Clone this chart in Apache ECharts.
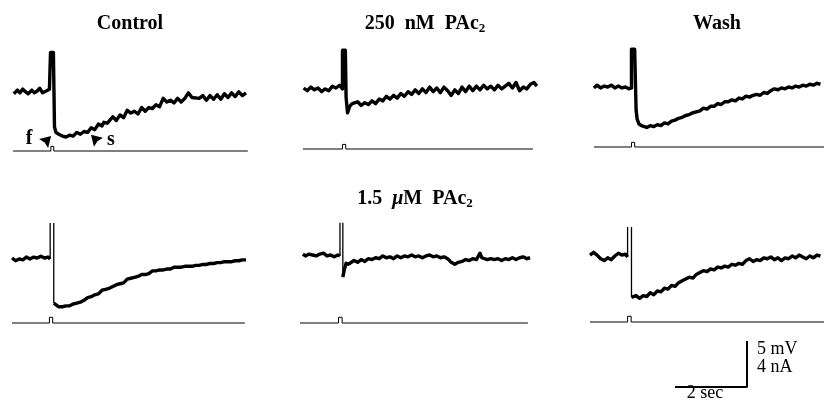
<!DOCTYPE html>
<html>
<head>
<meta charset="utf-8">
<script src="https://cdn.jsdelivr.net/npm/echarts@6/dist/echarts.min.js"></script>
<style>
html, body { margin: 0; padding: 0; background: #fff; }
#main { width: 824px; height: 401px; }
</style>
</head>
<body>
<div id="main"></div>
<script>
// membrane potential traces, [time (s), mV relative to resting level]
var ctrlTrace = [
	[0.05,-0.3],[0.15,0.1],[0.22,-0.2],[0.3,0.2],[0.38,-0.1],[0.45,-0.3],[0.55,0.1],[0.62,-0.2],[0.7,0.0],[0.77,0.3],[0.85,-0.2],[0.95,0.0],[1.04,0.2],
	[1.07,0.1],[1.07,4.2],[1.15,4.2],[1.18,-3.9],[1.22,-4.5],[1.26,-4.7],
	[1.3,-4.7],[1.4,-4.9],[1.5,-5.0],[1.6,-4.8],[1.7,-4.9],[1.8,-4.5],[1.9,-4.7],[2.0,-4.4],[2.1,-4.5],[2.2,-4.0],[2.3,-4.2],
	[2.4,-3.6],[2.5,-3.8],[2.55,-3.4],[2.65,-3.5],[2.8,-2.8],[2.9,-3.2],[3.0,-2.6],[3.1,-2.9],[3.2,-2.1],[3.3,-2.4],[3.4,-2.2],
	[3.5,-2.5],[3.6,-1.8],[3.7,-2.2],[3.8,-1.8],[3.9,-1.9],[4.0,-1.5],[4.1,-1.7],[4.2,-0.8],[4.3,-1.2],[4.4,-1.0],[4.5,-1.3],
	[4.6,-0.8],[4.7,-1.2],[4.8,-0.8],[4.9,-0.2],[5.0,-0.7],[5.05,-0.5],[5.2,-0.8],[5.3,-0.5],[5.4,-1.0],[5.5,-0.5],[5.6,-0.9],
	[5.7,-0.4],[5.8,-0.9],[5.9,-0.3],[6.0,-0.7],[6.1,-0.2],[6.2,-0.6],[6.3,-0.1],[6.4,-0.5],[6.5,-0.2]
];
var pac250Trace = [
	[0.1,0.0],[0.2,-0.3],[0.3,0.1],[0.4,-0.2],[0.5,0.0],[0.6,-0.4],[0.7,-0.1],[0.8,-0.3],[0.9,0.2],[1.0,0.0],[1.1,0.3],
	[1.18,-0.1],[1.18,4.1],[1.26,4.1],[1.28,-1.0],[1.32,-2.7],[1.38,-2.0],[1.45,-1.7],
	[1.5,-1.8],[1.6,-1.5],[1.7,-1.9],[1.8,-1.6],[1.9,-1.8],[2.0,-1.4],[2.1,-1.7],[2.2,-1.2],[2.3,-1.4],[2.4,-0.9],[2.5,-1.2],
	[2.6,-0.8],[2.7,-1.1],[2.8,-0.6],[2.9,-0.9],[3.0,-0.4],[3.1,-0.7],[3.2,-0.2],[3.3,-0.6],[3.4,-0.1],[3.5,-0.5],[3.6,0.1],
	[3.7,-0.4],[3.8,0.0],[3.9,-0.5],[4.0,0.1],[4.1,-0.3],[4.2,-0.8],[4.3,-0.2],[4.4,-0.6],[4.5,0.1],[4.6,-0.4],[4.7,0.2],
	[4.8,-0.3],[4.9,0.2],[5.0,-0.2],[5.1,0.3],[5.2,-0.1],[5.3,0.2],[5.4,-0.2],[5.5,0.3],[5.6,-0.1],[5.7,0.2],[5.8,0.5],
	[5.9,0.0],[6.0,0.6],[6.1,-0.3],[6.2,0.1],[6.3,-0.1],[6.4,0.4],[6.5,0.6],[6.58,0.2]
];
var washTrace = [
	[0.11,-0.1],[0.2,0.2],[0.3,-0.1],[0.4,0.1],[0.5,0.0],[0.6,0.2],[0.7,-0.1],[0.8,0.1],[0.9,-0.1],[1.0,0.0],[1.1,-0.2],
	[1.17,-0.1],[1.17,4.1],[1.26,4.1],[1.30,-2.5],[1.33,-3.5],[1.38,-4.0],[1.45,-4.2],
	[1.5,-4.3],[1.6,-4.4],[1.7,-4.2],[1.8,-4.3],[1.9,-4.1],[2.0,-4.2],[2.1,-3.9],[2.2,-4.0],[2.3,-3.7],[2.4,-3.6],[2.5,-3.4],
	[2.6,-3.3],[2.7,-3.1],[2.8,-3.0],[2.9,-2.8],[3.0,-2.7],[3.1,-2.6],[3.2,-2.3],[3.3,-2.4],[3.4,-2.1],[3.5,-2.1],[3.6,-1.8],
	[3.7,-1.9],[3.8,-1.6],[3.9,-1.6],[4.0,-1.4],[4.1,-1.5],[4.2,-1.2],[4.3,-1.3],[4.4,-1.0],[4.5,-1.1],[4.6,-0.9],[4.7,-0.8],
	[4.8,-0.9],[4.9,-0.6],[5.0,-0.7],[5.1,-0.4],[5.2,-0.2],[5.3,-0.3],[5.4,-0.1],[5.5,-0.2],[5.6,0.0],[5.7,-0.1],[5.8,0.1],
	[5.9,0.0],[6.0,0.2],[6.1,0.1],[6.2,0.3],[6.3,0.2],[6.4,0.4],[6.5,0.3]
];
var ctrl2Trace = [
	[0.0,0.0],[0.1,-0.3],[0.2,-0.1],[0.3,-0.2],[0.4,0.1],[0.5,-0.1],[0.6,0.1],[0.7,0.0],[0.8,0.2],[0.9,0.0],[1.0,0.1],[1.06,-0.1],
	[1.1,'-'],
	[1.16,-4.9],[1.2,-5.1],[1.3,-5.3],[1.4,-5.3],[1.5,-5.2],[1.6,-5.2],[1.7,-5.0],[1.8,-4.9],[1.9,-4.8],[2.0,-4.6],[2.1,-4.3],
	[2.2,-4.2],[2.3,-4.0],[2.4,-3.9],[2.5,-3.5],[2.6,-3.4],[2.7,-3.3],[2.8,-3.1],[2.9,-2.9],[3.0,-2.8],[3.1,-2.7],[3.2,-2.3],
	[3.3,-2.2],[3.4,-2.1],[3.5,-2.0],[3.6,-1.8],[3.7,-1.8],[3.8,-1.7],[3.9,-1.4],[4.0,-1.4],[4.1,-1.3],[4.2,-1.3],[4.3,-1.2],
	[4.4,-1.2],[4.5,-1.0],[4.6,-1.0],[4.7,-1.0],[4.8,-0.9],[4.9,-0.9],[5.0,-0.9],[5.1,-0.8],[5.2,-0.8],[5.3,-0.7],[5.4,-0.7],
	[5.5,-0.6],[5.6,-0.6],[5.7,-0.5],[5.8,-0.5],[5.9,-0.4],[6.0,-0.4],[6.1,-0.4],[6.2,-0.3],[6.3,-0.3],[6.4,-0.2],[6.5,-0.2]
];
var pac15Trace = [
	[0.08,0.1],[0.15,-0.1],[0.25,0.1],[0.35,0.0],[0.45,-0.1],[0.55,0.1],[0.65,0.2],[0.75,-0.1],[0.85,0.0],[0.95,-0.2],[1.05,0.0],[1.11,-0.1],
	[1.15,'-'],
	[1.19,-2.4],[1.23,-1.6],[1.28,-0.9],[1.35,-1.0],[1.4,-0.8],[1.5,-0.6],[1.6,-0.8],[1.7,-0.5],[1.8,-0.7],[1.9,-0.4],[2.0,-0.5],
	[2.1,-0.3],[2.2,-0.4],[2.3,-0.1],[2.4,-0.3],[2.5,-0.2],[2.6,-0.4],[2.7,-0.1],[2.8,-0.3],[2.9,-0.1],[3.0,-0.2],[3.1,0.0],
	[3.2,-0.2],[3.3,-0.1],[3.4,-0.3],[3.5,-0.1],[3.6,0.0],[3.7,-0.2],[3.8,-0.1],[3.9,-0.3],[4.0,-0.2],[4.1,-0.4],[4.2,-0.8],
	[4.3,-1.0],[4.4,-0.8],[4.5,-0.7],[4.6,-0.5],[4.7,-0.6],[4.8,-0.4],[4.9,-0.5],[5.0,0.2],[5.05,-0.3],[5.1,-0.4],[5.2,-0.5],
	[5.3,-0.4],[5.4,-0.5],[5.5,-0.4],[5.6,-0.6],[5.7,-0.4],[5.8,-0.5],[5.9,-0.3],[6.0,-0.5],[6.1,-0.3],[6.2,-0.2],[6.3,-0.4],[6.39,-0.3]
];
var wash2Trace = [
	[0.0,0.1],[0.1,0.4],[0.2,0.1],[0.3,-0.3],[0.4,-0.5],[0.5,-0.2],[0.6,-0.4],[0.7,0.0],[0.8,0.3],[0.9,0.1],[1.0,0.2],[1.06,-0.1],
	[1.1,'-'],
	[1.17,-4.5],[1.2,-4.5],[1.3,-4.3],[1.4,-4.6],[1.5,-4.3],[1.6,-4.4],[1.7,-4.0],[1.8,-4.2],[1.9,-3.8],[2.0,-3.9],[2.1,-3.5],
	[2.2,-3.6],[2.3,-3.2],[2.4,-3.3],[2.5,-2.9],[2.6,-2.7],[2.7,-2.5],[2.8,-2.3],[2.9,-2.4],[3.0,-2.0],[3.1,-1.8],[3.2,-1.6],
	[3.3,-1.7],[3.4,-1.4],[3.5,-1.5],[3.6,-1.2],[3.7,-1.3],[3.8,-1.1],[3.9,-1.2],[4.0,-0.9],[4.1,-1.0],[4.2,-0.8],[4.3,-0.9],
	[4.4,-0.5],[4.5,-0.3],[4.6,-0.6],[4.7,-0.4],[4.8,-0.5],[4.9,-0.2],[5.0,-0.3],[5.1,-0.1],[5.2,-0.4],[5.3,-0.2],[5.4,-0.5],
	[5.5,-0.2],[5.6,-0.3],[5.7,0.0],[5.8,-0.2],[5.9,0.1],[6.0,-0.1],[6.1,-0.3],[6.2,0.0],[6.3,-0.2],[6.4,0.1],[6.5,0.0]
];

// fast action potential edges in the lower row (drawn thin)
var ctrl2Spike = [[1.06,-0.1],[1.06,3.8],[1.1,'-'],[1.16,3.8],[1.16,-4.9]];
var pac15Spike = [[1.11,-0.1],[1.11,3.5],[1.15,'-'],[1.19,3.5],[1.19,-2.4]];
var wash2Spike = [[1.06,-0.1],[1.06,3.15],[1.1,'-'],[1.17,3.15],[1.17,-4.5]];

// injected current, [time (s), nA]
var ctrlStim = [[0.03,0],[1.08,0],[1.08,0.4],[1.16,0.4],[1.16,0],[6.55,0]];
var pac250Stim = [[0.08,0],[1.18,0],[1.18,0.4],[1.27,0.4],[1.27,0],[6.47,0]];
var washStim = [[0.11,0],[1.17,0],[1.17,0.4],[1.26,0.4],[1.26,0],[6.6,0]];
var ctrl2Stim = [[0.0,0],[1.04,0],[1.04,0.5],[1.13,0.5],[1.13,0],[6.47,0]];
var pac15Stim = [[0.0,0],[1.07,0],[1.07,0.5],[1.17,0.5],[1.17,0],[6.33,0]];
var wash2Stim = [[0.0,0],[1.06,0],[1.06,0.5],[1.16,0.5],[1.16,0],[6.6,0]];

// calibration: 2 s, 5 mV
var scaleBar = [[0,0],[2,0],[2,5]];

var traces = [ctrlTrace, pac250Trace, washTrace, ctrl2Trace, pac15Trace, wash2Trace];
var spikes = [null, null, null, ctrl2Spike, pac15Spike, wash2Spike];
var stims = [ctrlStim, pac250Stim, washStim, ctrl2Stim, pac15Stim, wash2Stim];

// panel placement: left edge, y of resting level, distance to current trace
var layout = [
	{ left: 12, base: 91, gap: 60 },
	{ left: 300, base: 88, gap: 61 },
	{ left: 590, base: 87, gap: 60 },
	{ left: 12, base: 258, gap: 65 },
	{ left: 300, base: 255, gap: 68 },
	{ left: 590, base: 256, gap: 66 }
];

var PX_S = 36;     // px per second
var PX_MV = 9.2;   // px per mV
var PX_NA = 11.5;  // px per nA
var serif = '"Liberation Serif", "DejaVu Serif", serif';

// notched arrowheads for the f / s marks
var arrowUpRight = 'path://M10,0 L0,2.5 L4.6,5.4 L7.5,10 Z';
var arrowUpLeft = 'path://M0,0 L10,2.5 L5.4,5.4 L2.5,10 Z';

var myChart = echarts.init(document.getElementById('main'));

var grid = [], xAxis = [], yAxis = [], series = [];
for (var i = 0; i < 6; i++) {
	var L = layout[i];
	var h = 15 * PX_MV;
	grid.push({ left: L.left, top: L.base - 5 * PX_MV, width: 6.6 * PX_S, height: h });
	xAxis.push({ type: 'value', gridIndex: i, min: 0, max: 6.6, show: false });
	yAxis.push({ type: 'value', gridIndex: i, min: -10, max: 5, show: false });
	var naMax = (5 * PX_MV + L.gap) / PX_NA;
	yAxis.push({ type: 'value', gridIndex: i, min: naMax - h / PX_NA, max: naMax, show: false });

	var tr = {
		type: 'line',
		xAxisIndex: i,
		yAxisIndex: i * 2,
		data: traces[i],
		symbol: 'none',
		lineStyle: { color: '#000', width: 3.4, join: 'round' },
		animation: false
	};
	if (i == 0) {
		tr.markPoint = {
			silent: true,
			symbolSize: 12,
			itemStyle: { color: '#000' },
			label: { show: false },
			animation: false,
			data: [
				{ coord: [0.92, -5.55], symbol: arrowUpRight },
				{ coord: [2.36, -5.4], symbol: arrowUpLeft }
			]
		};
	}
	series.push(tr);
	if (spikes[i]) {
		series.push({
			type: 'line',
			xAxisIndex: i,
			yAxisIndex: i * 2,
			data: spikes[i],
			symbol: 'none',
			lineStyle: { color: '#000', width: 1.3 },
			animation: false
		});
	}
	series.push({
		type: 'line',
		xAxisIndex: i,
		yAxisIndex: i * 2 + 1,
		data: stims[i],
		symbol: 'none',
		lineStyle: { color: '#000', width: 1 },
		animation: false
	});
}

// calibration bar uses the same px/s and px/mV
grid.push({ left: 675, top: 341, width: 2 * PX_S, height: 5 * PX_MV });
xAxis.push({ type: 'value', gridIndex: 6, min: 0, max: 2, show: false });
yAxis.push({ type: 'value', gridIndex: 6, min: 0, max: 5, show: false });
series.push({
	type: 'line',
	xAxisIndex: 6,
	yAxisIndex: 12,
	data: scaleBar,
	symbol: 'none',
	clip: false,
	lineStyle: { color: '#000', width: 2 },
	animation: false
});

function label(x, y, text, align, extra) {
	var st = {
		text: text,
		fill: '#000',
		font: 'bold 20px ' + serif,
		align: align || 'center',
		verticalAlign: 'middle'
	};
	if (extra) {
		for (var k in extra) st[k] = extra[k];
	}
	return { type: 'text', x: x, y: y, silent: true, style: st };
}

var rich = {
	b: { fontFamily: serif, fontWeight: 'bold', fontSize: 20, fill: '#000' },
	mu: { fontFamily: serif, fontStyle: 'italic', fontWeight: 'bold', fontSize: 20, fill: '#000' },
	sub: { fontFamily: serif, fontWeight: 'bold', fontSize: 13, fill: '#000', padding: [9, 0, 0, 0] }
};

myChart.setOption({
	backgroundColor: '#fff',
	animation: false,
	grid: grid,
	xAxis: xAxis,
	yAxis: yAxis,
	series: series,
	graphic: [
		label(130, 24, 'Control'),
		label(425, 24, '{b|250  nM  PAc}{sub|2}', 'center', { rich: rich }),
		label(717, 24, 'Wash'),
		label(415, 199, '{b|1.5  }{mu|μ}{b|M  PAc}{sub|2}', 'center', { rich: rich }),
		label(29, 139, 'f', 'center', { font: 'bold 20px ' + serif }),
		label(111, 140, 's', 'center', { font: 'bold 20px ' + serif }),
		label(757, 349, '5 mV', 'left', { font: '18px ' + serif }),
		label(757, 367, '4 nA', 'left', { font: '18px ' + serif }),
		label(705, 393, '2 sec', 'center', { font: '18px ' + serif })
	]
});
</script>
</body>
</html>
